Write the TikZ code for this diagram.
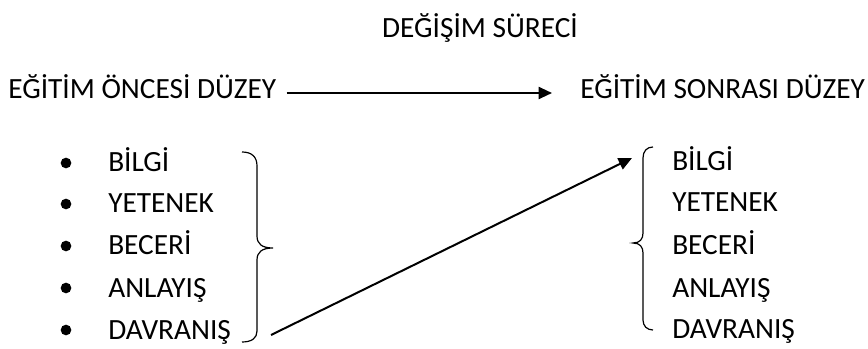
\documentclass[tikz,border=0pt]{standalone}
\usepackage{fontspec}
\setmainfont{Carlito}
\usetikzlibrary{arrows.meta}
\begin{document}
\begin{tikzpicture}[x=0.75pt,y=-0.75pt,
  txt/.style={anchor=base west,inner sep=0pt,font=\fontsize{22}{26}\selectfont},
  bul/.style={circle,fill=black,inner sep=0pt,minimum size=8pt},
  conn/.style={line width=1.5pt,-{Triangle[length=10pt,width=9pt]}},
  brace/.style={line width=0.9pt}]
\useasboundingbox (0,0) rectangle (868,349);
\node[txt,anchor=base] (title) at (480,38) {DEĞİŞİM SÜRECİ};
\node[txt] (pre) at (8,99) {EĞİTİM ÖNCESİ DÜZEY};
\node[txt] (post) at (580,99) {EĞİTİM SONRASI DÜZEY};
\draw[conn] (pre.east|-0,93) ++(10,0) coordinate (a1) -- (552,93) coordinate (a2);
% left list
\foreach \t/\y/\n in {BİLGİ/172/1,YETENEK/213/2,BECERİ/255/3,ANLAYIŞ/297/4,DAVRANIŞ/339/5}{
  \node[bul] (b\n) at (66,\y-9) {};
  \node[txt] (l\n) at (108,\y) {\t};
}
% right list
\foreach \t/\y/\n in {BİLGİ/171/1,YETENEK/212/2,BECERİ/255/3,ANLAYIŞ/297/4,DAVRANIŞ/338/5}{
  \node[txt] (r\n) at (672,\y) {\t};
}
% left brace (closing)
\draw[brace] (242,152) .. controls (252,152) and (257,157) .. (257,166)
  -- (257,236) .. controls (257,244) and (262,248) .. (273,248)
  .. controls (262,248) and (257,252) .. (257,260)
  -- (257,331) .. controls (257,338) and (252,342) .. (242,342);
% right brace (opening)
\draw[brace] (653,147) .. controls (647,147) and (643,151) .. (643,158)
  -- (643,233) .. controls (643,239) and (640,243) .. (633,243)
  .. controls (640,243) and (643,247) .. (643,253)
  -- (643,320) .. controls (643,326) and (647,330) .. (653,330);
\coordinate (s) at (271,335);
\coordinate (e) at (632,158);
\draw[conn] (s) -- (e);
\end{tikzpicture}
\end{document}
